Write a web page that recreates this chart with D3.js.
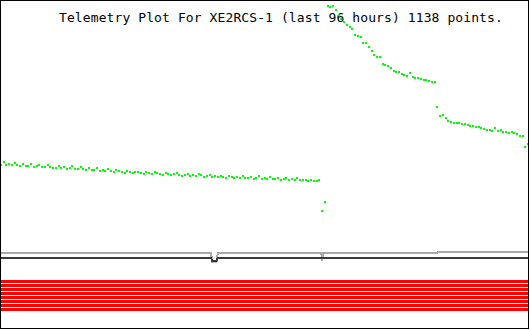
<!DOCTYPE html>
<html>
<head>
<meta charset="utf-8">
<script src="https://cdn.jsdelivr.net/npm/d3@7"></script>
<style>
html,body{margin:0;padding:0;background:#fff;}
svg{display:block;}
</style>
</head>
<body>
<script>
// ---- data ----
const titleText = "Telemetry Plot For XE2RCS-1 (last 96 hours) 1138 points.";
const hoursSpan = [0, 96];
const sampleStepHours = 0.5;
// channel A (green), one reading per half hour, raw counts
const greenValues = [
 163,166,163,164,163,165,163,162,164,162,
 162,164,161,162,163,161,161,163,161,160,
 160,162,160,161,159,160,162,159,159,161,
 159,158,160,158,158,160,157,158,157,159,
 157,156,158,157,156,155,157,156,155,156,
 156,155,154,156,155,154,156,155,154,153,
 155,154,153,154,155,153,152,153,154,152,
 153,152,154,153,151,152,153,151,152,151,
 152,151,150,152,151,150,151,150,152,150,
 150,151,149,150,152,149,150,149,151,149,
 149,150,148,149,150,148,149,148,150,148,
 148,148,147,148,147,147,148,117,126,
 322,321,322,318,313,309,306,303,301,299,
 293,292,291,285,285,281,277,273,271,271,
 264,263,262,260,257,256,256,254,253,252,
 255,251,250,250,249,248,248,247,246,246,
 221,212,213,210,207,206,205,205,205,204,
 204,203,202,202,201,201,200,199,198,198,
 197,200,197,198,196,196,195,196,195,194,
 192,192,181,184
];
// channel B (light gray) breakpoints: hours, counts
const grayHours  = [0, 38.25, 38.5, 39.25, 39.5, 58.35, 58.5, 58.65, 79.45, 79.6, 96];
const grayValues = [75, 75, 66, 66, 75, 75, 67, 75, 75, 76, 76];
// channel C (dark gray) breakpoints
const darkHours  = [0, 38.25, 38.5, 39.25, 39.5, 96];
const darkValues = [70, 70, 67, 67, 70, 70];
// digital bits (all on for the whole period)
const bitNames  = ["B1","B2","B3","B4","B5","B6","B7","B8"];
const bitStates = [1,1,1,1,1,1,1,1];

// ---- drawing ----
const W = 530, H = 330;
const svg = d3.select("body").append("svg").attr("width", W).attr("height", H);
svg.append("rect").attr("width", W).attr("height", H).attr("fill", "#fff");

const x = d3.scaleLinear().domain(hoursSpan).range([1, 528]);
const y = d3.scaleLinear().domain([0, 328]).range([328, 0]);
const bitY = d3.scaleBand().domain(bitNames).range([279.5, 311.5]).paddingInner(0.25).paddingOuter(0.125);

// bits
svg.append("g").selectAll("rect").data(bitNames.filter((b, i) => bitStates[i] === 1)).join("rect")
  .attr("x", x(hoursSpan[0])).attr("width", x(hoursSpan[1]) - x(hoursSpan[0]))
  .attr("y", d => Math.round(bitY(d))).attr("height", Math.round(bitY.bandwidth()))
  .attr("fill", "#ff0000").attr("shape-rendering", "crispEdges");

const line = d3.line().x(d => x(d[0])).y(d => y(d[1]));
svg.append("path").datum(grayHours.map((h, i) => [h, grayValues[i]]))
  .attr("d", line).attr("fill", "none").attr("stroke", "#a9a9a9").attr("stroke-width", 2)
  .attr("shape-rendering", "crispEdges");
svg.append("path").datum(darkHours.map((h, i) => [h, darkValues[i]]))
  .attr("d", line).attr("fill", "none").attr("stroke", "#3a3a3a").attr("stroke-width", 2)
  .attr("shape-rendering", "crispEdges");

// title
svg.append("text").attr("x", 59).attr("y", 22)
  .attr("font-family", "DejaVu Sans Mono, monospace").attr("font-size", 13)
  .attr("letter-spacing", 0.1)
  .attr("fill", "#000").text(titleText);

// green points
svg.append("g").selectAll("rect").data(greenValues).join("rect")
  .attr("x", (d, i) => Math.round(x(i * sampleStepHours)) - 1)
  .attr("y", d => Math.round(y(d)) - 1)
  .attr("width", 2).attr("height", 2)
  .attr("fill", "#00ff00").attr("shape-rendering", "crispEdges");

// frame
svg.append("rect").attr("x", 0.5).attr("y", 0.5).attr("width", 528).attr("height", 328)
  .attr("fill", "none").attr("stroke", "#000").attr("stroke-width", 1)
  .attr("shape-rendering", "crispEdges");
</script>
</body>
</html>
